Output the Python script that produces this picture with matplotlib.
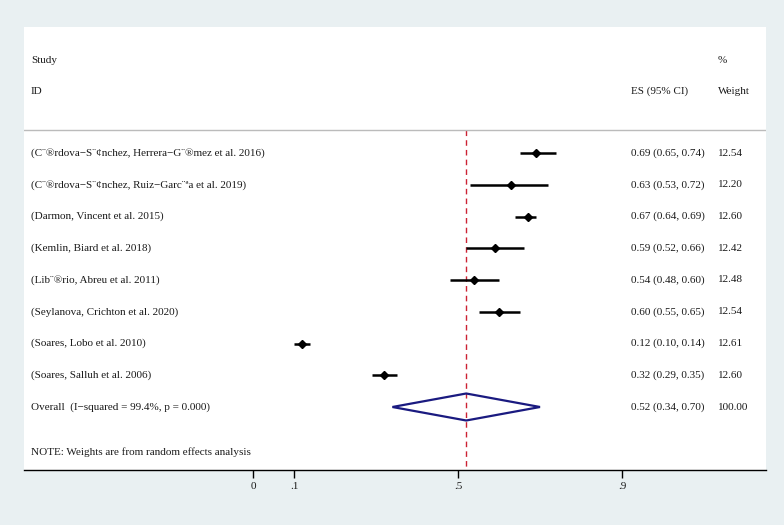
import matplotlib
matplotlib.use("Agg")
import matplotlib.pyplot as plt
from matplotlib.patches import Polygon
import matplotlib.transforms as mtransforms

studies = [
    "(C¨®rdova\u2212S¨¢nchez, Herrera\u2212G¨®mez et al. 2016)",
    "(C¨®rdova\u2212S¨¢nchez, Ruiz\u2212Garc¨ªa et al. 2019)",
    "(Darmon, Vincent et al. 2015)",
    "(Kemlin, Biard et al. 2018)",
    "(Lib¨®rio, Abreu et al. 2011)",
    "(Seylanova, Crichton et al. 2020)",
    "(Soares, Lobo et al. 2010)",
    "(Soares, Salluh et al. 2006)",
]
es = [0.69, 0.63, 0.67, 0.59, 0.54, 0.60, 0.12, 0.32]
lo = [0.65, 0.53, 0.64, 0.52, 0.48, 0.55, 0.10, 0.29]
hi = [0.74, 0.72, 0.69, 0.66, 0.60, 0.65, 0.14, 0.35]
weights = [12.54, 12.20, 12.60, 12.42, 12.48, 12.54, 12.61, 12.60]

overall_label = "Overall  (I\u2212squared = 99.4%, p = 0.000)"
overall_es, overall_lo, overall_hi = 0.52, 0.34, 0.70
overall_weight = 100.00
note = "NOTE: Weights are from random effects analysis"
xticks = [0, 0.1, 0.5, 0.9]
xticklabels = ["0", ".1", ".5", ".9"]

W, H = 784, 525
fig = plt.figure(figsize=(W / 100, H / 100), dpi=100)
bg = "#e9f0f2"
fig.patch.set_facecolor(bg)

# panel in pixel coordinates
px_l, px_r, px_t, px_b = 24, 766, 27, 470
ax = fig.add_axes([px_l / W, 1 - px_b / H, (px_r - px_l) / W, (px_b - px_t) / H])
ax.set_facecolor("white")

# x scale: 0 at pixel 253, 410 px per unit
x0px, scale = 253.0, 410.0
ax.set_xlim((px_l - x0px) / scale, (px_r - x0px) / scale)
# y scale: row 1 at pixel 153, 31.75 px per row
y1px, step = 153.0, 31.75
ax.set_ylim(1 + (px_b - y1px) / step, 1 - (y1px - px_t) / step)

txtcol = "#1a1a1a"
for s in ["top", "left", "right"]:
    ax.spines[s].set_visible(False)
ax.spines["bottom"].set_color("black")
ax.spines["bottom"].set_linewidth(1.0)
ax.set_yticks([])
ax.set_xticks(xticks)
ax.set_xticklabels(xticklabels)
ax.tick_params(axis="x", direction="out", length=6, width=1, pad=2.5,
               labelsize=8, labelcolor=txtcol)
for t in ax.get_xticklabels():
    t.set_fontfamily("Liberation Serif")

font = dict(family="Liberation Serif", fontsize=8, color=txtcol, va="center")

def row(i):
    return i + 1

trans_axx = mtransforms.blended_transform_factory(ax.transAxes, ax.transData)

def px_to_axx(px):
    return (px - px_l) / (px_r - px_l)

# headers
y_study = 1 - (153 - 60) / step
y_id = 1 - (153 - 91) / step
ax.text(px_to_axx(31), y_study, "Study", transform=trans_axx, **font)
ax.text(px_to_axx(31), y_id, "ID", transform=trans_axx, **font)
ax.text(px_to_axx(718), y_study, "%", transform=trans_axx, **font)
ax.text(px_to_axx(718), y_id, "Weight", transform=trans_axx, **font)
ax.text(px_to_axx(631), y_id, "ES (95% CI)", transform=trans_axx, **font)

# separator line
y_sep = 1 - (153 - 130) / step
ax.plot([0, 1], [y_sep, y_sep], transform=trans_axx, color="#bbbbbb", lw=1.0)

# reference dashed line at overall estimate
ax.plot([overall_es, overall_es], [y_sep, ax.get_ylim()[0]], color="#cc2233",
        lw=1.0, ls=(0, (4, 3)), zorder=1)

for i, (name, e, l, h, w) in enumerate(zip(studies, es, lo, hi, weights)):
    y = row(i)
    ax.text(px_to_axx(31), y, name, transform=trans_axx, **font)
    ax.plot([l, h], [y, y], color="black", lw=1.8, solid_capstyle="butt", zorder=3)
    ax.plot([e], [y], marker="D", color="black", ms=3.6, zorder=4)
    ax.text(px_to_axx(631), y, f"{e:.2f} ({l:.2f}, {h:.2f})", transform=trans_axx, **font)
    ax.text(px_to_axx(718), y, f"{w:.2f}", transform=trans_axx, **font)

# overall
yo = row(len(studies))
ax.text(px_to_axx(31), yo, overall_label, transform=trans_axx, **font)
dh = 13.5 / step
diamond = Polygon([[overall_lo, yo], [overall_es, yo - dh], [overall_hi, yo],
                   [overall_es, yo + dh]], closed=True, fill=False,
                  edgecolor="#1a1a80", lw=1.6, zorder=3)
ax.add_patch(diamond)
ax.text(px_to_axx(631), yo, f"{overall_es:.2f} ({overall_lo:.2f}, {overall_hi:.2f})",
        transform=trans_axx, **font)
ax.text(px_to_axx(718), yo, f"{overall_weight:.2f}", transform=trans_axx, **font)

# note
y_note = 1 + (452 - 153) / step
ax.text(px_to_axx(31), y_note, note, transform=trans_axx, **font)

fig.savefig("out.png", dpi=100, facecolor=bg)
